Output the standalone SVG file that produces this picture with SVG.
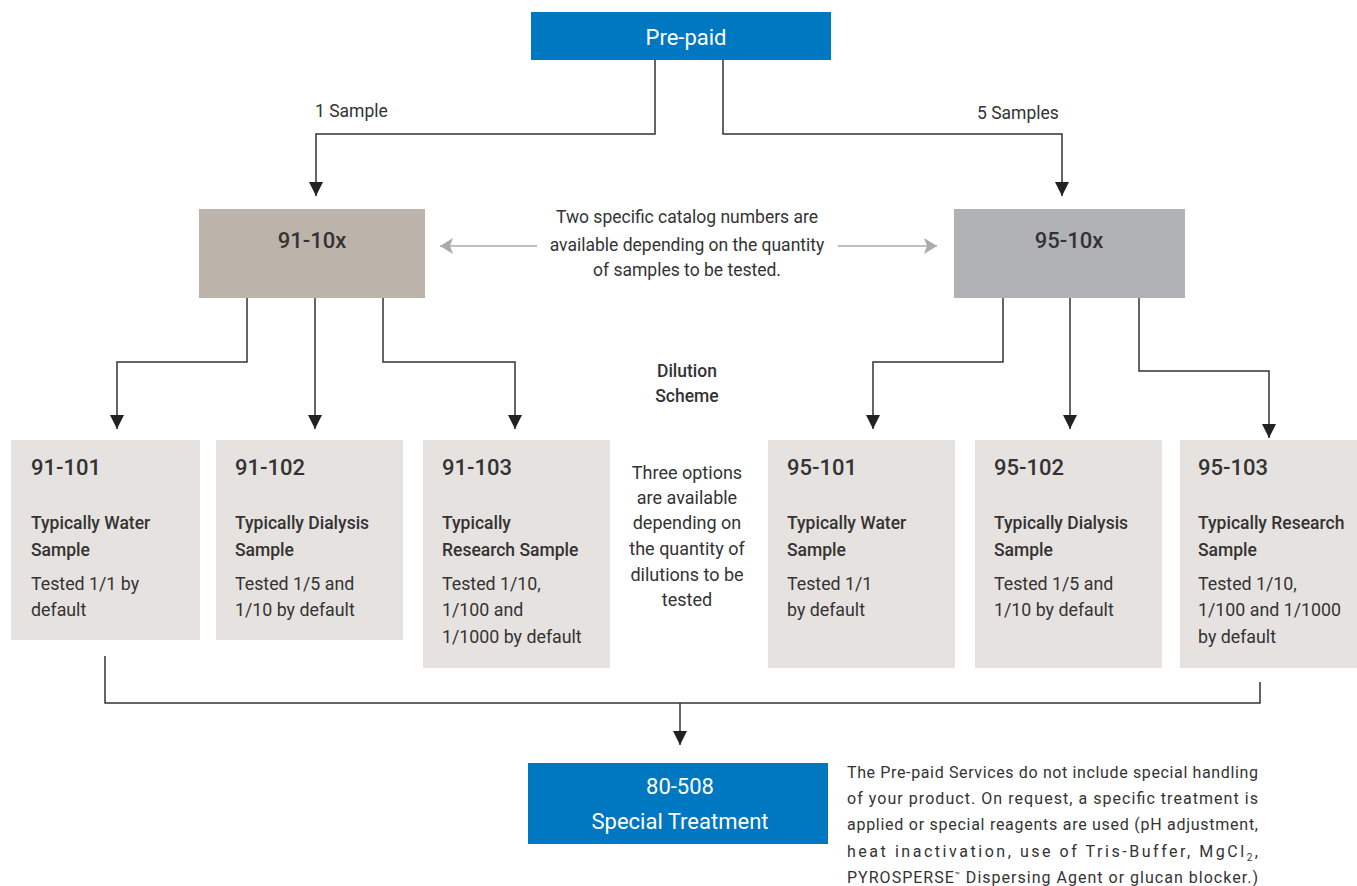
<svg xmlns="http://www.w3.org/2000/svg" width="1357" height="886" viewBox="0 0 1357 886">
<style>
text{font-family:Roboto,"Liberation Sans",sans-serif;fill:#333333}
.blue{fill:#0077C1}
.light{fill:#E6E2DF}
.wt{fill:#ffffff;font-size:22px;text-anchor:middle}
.lbl{font-size:17.5px}
.mid{font-size:17.5px;text-anchor:middle}
.opt{font-size:18px;text-anchor:middle}
.hd{font-size:22px;font-weight:500;text-anchor:middle}
.id{font-size:22px;font-weight:500}
.bd{font-size:17.5px;font-weight:500}
.rg{font-size:17.8px}
.para{font-size:16px}
.ln{fill:none;stroke:#333333;stroke-width:1.5}
.gl{fill:none;stroke:#AAAAAA;stroke-width:1.5}
</style>
<defs>
<marker id="ah" markerUnits="userSpaceOnUse" markerWidth="16" markerHeight="14" refX="14" refY="7" orient="auto">
<path d="M0,0 L14,7 L0,14 Z" fill="#222222"/>
</marker>
<marker id="gh" markerUnits="userSpaceOnUse" markerWidth="16" markerHeight="16" refX="13" refY="8" orient="auto">
<path d="M0,0 L13,8 L0,16 L3,8 Z" fill="#AAAAAA"/>
</marker>
</defs>
<g id="connectors">
<path class="ln" d="M655,60 V134 H316 V196" marker-end="url(#ah)"/>
<path class="ln" d="M723,60 V134 H1062 V196" marker-end="url(#ah)"/>
<path class="ln" d="M247,298 V362 H117 V429" marker-end="url(#ah)"/>
<path class="ln" d="M315,298 V429" marker-end="url(#ah)"/>
<path class="ln" d="M383,298 V362 H515 V429" marker-end="url(#ah)"/>
<path class="ln" d="M1003,298 V362 H873 V429" marker-end="url(#ah)"/>
<path class="ln" d="M1070,298 V429" marker-end="url(#ah)"/>
<path class="ln" d="M1139,298 V371 H1269 V438" marker-end="url(#ah)"/>
<path class="ln" d="M105,656 V703 H1260 V682"/>
<path class="ln" d="M680,703 V745" marker-end="url(#ah)"/>
<path class="gl" d="M537,246 H440" marker-end="url(#gh)"/>
<path class="gl" d="M838,246 H937" marker-end="url(#gh)"/>
</g>
<g id="prepaid">
<rect class="blue" x="531" y="12" width="300" height="48"/>
<text class="wt" x="686" y="45">Pre-paid</text>
</g>
<g id="label-1sample"><text class="lbl" x="315" y="117">1 Sample</text></g>
<g id="label-5samples"><text class="lbl" x="977" y="119">5 Samples</text></g>
<g id="n91-10x">
<rect x="199" y="209" width="226" height="89" fill="#BCB3AA"/>
<text class="hd" x="312" y="248">91-10x</text>
</g>
<g id="n95-10x">
<rect x="954" y="209" width="231" height="89" fill="#B1B2B5"/>
<text class="hd" x="1069" y="248">95-10x</text>
</g>
<g id="catalog-note">
<text class="mid" x="687" y="223">Two specific catalog numbers are</text>
<text class="mid" x="687" y="251">available depending on the quantity</text>
<text class="mid" x="687" y="276">of samples to be tested.</text>
</g>
<g id="dilution-scheme">
<text class="mid" x="687" y="377" font-weight="500">Dilution</text>
<text class="mid" x="687" y="402" font-weight="500">Scheme</text>
</g>
<g id="three-options">
<text class="opt" x="687" y="479">Three options</text>
<text class="opt" x="687" y="504">are available</text>
<text class="opt" x="687" y="529">depending on</text>
<text class="opt" x="687" y="555">the quantity of</text>
<text class="opt" x="687" y="581">dilutions to be</text>
<text class="opt" x="687" y="606">tested</text>
</g>
<g id="n91-101">
<rect class="light" x="11" y="440" width="189" height="200"/>
<text class="id" x="31" y="475">91-101</text>
<text class="bd" x="31" y="529">Typically Water</text>
<text class="bd" x="31" y="556">Sample</text>
<text class="rg" x="31" y="590">Tested 1/1 by</text>
<text class="rg" x="31" y="616">default</text>
</g>
<g id="n91-102">
<rect class="light" x="216" y="440" width="187" height="200"/>
<text class="id" x="235" y="475">91-102</text>
<text class="bd" x="235" y="529">Typically Dialysis</text>
<text class="bd" x="235" y="556">Sample</text>
<text class="rg" x="235" y="590">Tested 1/5 and</text>
<text class="rg" x="235" y="616">1/10 by default</text>
</g>
<g id="n91-103">
<rect class="light" x="423" y="440" width="187" height="228"/>
<text class="id" x="442" y="475">91-103</text>
<text class="bd" x="442" y="529">Typically</text>
<text class="bd" x="442" y="556">Research Sample</text>
<text class="rg" x="442" y="590">Tested 1/10,</text>
<text class="rg" x="442" y="616">1/100 and</text>
<text class="rg" x="442" y="643">1/1000 by default</text>
</g>
<g id="n95-101">
<rect class="light" x="768" y="440" width="187" height="228"/>
<text class="id" x="787" y="475">95-101</text>
<text class="bd" x="787" y="529">Typically Water</text>
<text class="bd" x="787" y="556">Sample</text>
<text class="rg" x="787" y="590">Tested 1/1</text>
<text class="rg" x="787" y="616">by default</text>
</g>
<g id="n95-102">
<rect class="light" x="975" y="440" width="187" height="228"/>
<text class="id" x="994" y="475">95-102</text>
<text class="bd" x="994" y="529">Typically Dialysis</text>
<text class="bd" x="994" y="556">Sample</text>
<text class="rg" x="994" y="590">Tested 1/5 and</text>
<text class="rg" x="994" y="616">1/10 by default</text>
</g>
<g id="n95-103">
<rect class="light" x="1180" y="440" width="177" height="228"/>
<text class="id" x="1198" y="475">95-103</text>
<text class="bd" x="1198" y="529">Typically Research</text>
<text class="bd" x="1198" y="556">Sample</text>
<text class="rg" x="1198" y="590">Tested 1/10,</text>
<text class="rg" x="1198" y="616">1/100 and 1/1000</text>
<text class="rg" x="1198" y="643">by default</text>
</g>
<g id="n80-508">
<rect class="blue" x="528" y="763" width="300" height="81"/>
<text class="wt" x="680" y="794">80-508</text>
<text class="wt" x="680" y="829">Special Treatment</text>
</g>
<g id="special-note">
<text class="para" x="847" y="778" textLength="411" lengthAdjust="spacing">The Pre-paid Services do not include special handling</text>
<text class="para" x="847" y="804" textLength="411" lengthAdjust="spacing">of your product. On request, a specific treatment is</text>
<text class="para" x="847" y="830" textLength="411" lengthAdjust="spacing">applied or special reagents are used (pH adjustment,</text>
<text class="para" x="847" y="857" textLength="411" lengthAdjust="spacing">heat inactivation, use of Tris-Buffer, MgCl<tspan font-size="10" dy="4">2</tspan><tspan dy="-4">,</tspan></text>
<text class="para" x="847" y="883" textLength="411" lengthAdjust="spacing">PYROSPERSE<tspan font-size="8" dy="-5">™</tspan><tspan dy="5"> Dispersing Agent or glucan blocker.)</tspan></text>
</g>
</svg>
